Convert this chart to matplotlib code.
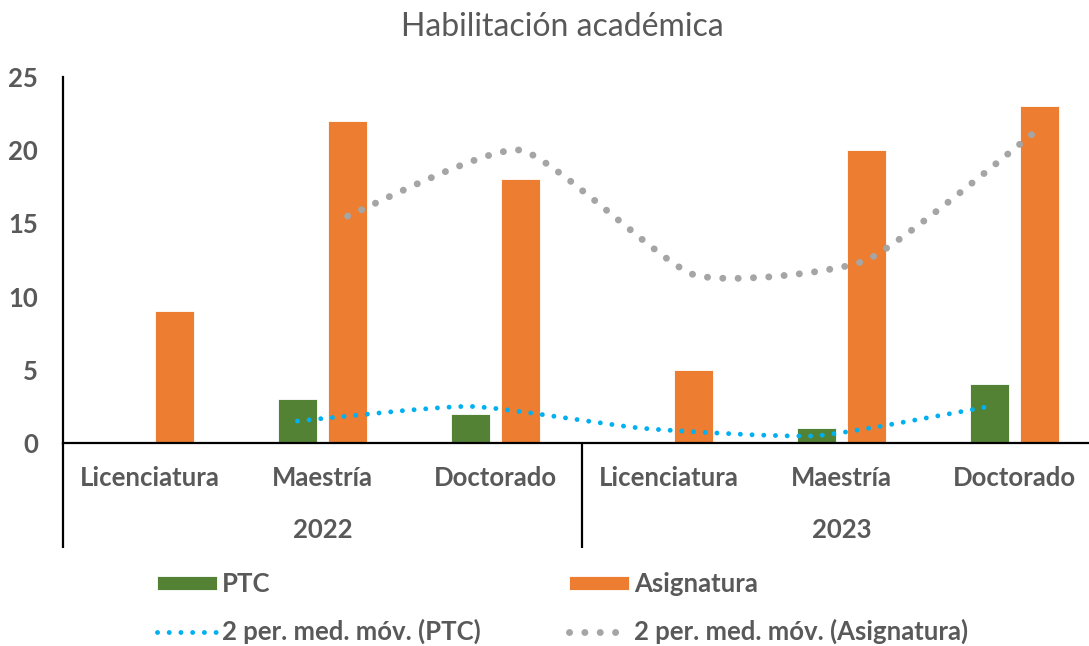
import numpy as np
import matplotlib.pyplot as plt
from matplotlib.path import Path
from matplotlib.patches import PathPatch, Patch
from matplotlib.lines import Line2D

# data
years = ['2022', '2023']
niveles = ['Licenciatura', 'Maestría', 'Doctorado']
ptc = [0, 3, 2, 0, 1, 4]
asignatura = [9, 22, 18, 5, 20, 23]
# 2-period moving averages (Excel trendlines, start at the 2nd category)
ma_ptc = [1.5, 2.5, 1.0, 0.5, 2.5]
ma_asig = [15.5, 20.0, 11.5, 12.5, 21.5]

GREEN = '#548235'
ORANGE = '#ED7D31'
BLUE = '#00B0F0'
GRAY = '#A5A5A5'
TXT = '#595959'

plt.rcParams['font.family'] = ['Lato', 'DejaVu Sans']
FS = 18.5


def smooth_path(xs, ys, k=0.09):
    # Excel-like smoothed line: Catmull-Rom style segments as cubic Beziers
    pts = np.column_stack([xs, ys]).astype(float)
    n = len(pts)
    verts = [pts[0]]
    codes = [Path.MOVETO]
    for i in range(n - 1):
        p0 = pts[i - 1] if i > 0 else pts[i]
        p1, p2 = pts[i], pts[i + 1]
        p3 = pts[i + 2] if i + 2 < n else pts[i + 1]
        verts += [p1 + (p2 - p0) * k, p2 - (p3 - p1) * k, p2]
        codes += [Path.CURVE4] * 3
    return Path(verts, codes)


W, H = 1089, 646
fig = plt.figure(figsize=(W / 100, H / 100), dpi=100)
ax = fig.add_axes([63 / W, 1 - 443 / H, (1101 - 63) / W, (443 - 77) / H])

x = np.arange(len(ptc))
off = 0.145
bw = 0.225
ax.bar(x - off, ptc, bw, color=GREEN, edgecolor='white', linewidth=0.6, zorder=2)
ax.bar(x + off, asignatura, bw, color=ORANGE, edgecolor='white', linewidth=0.6, zorder=2)

blue_style = dict(linestyle=(0, (0.01, 2.4)), linewidth=3.5)
gray_style = dict(linestyle=(0, (0.01, 2.2)), linewidth=5.0)

pp = PathPatch(smooth_path(x[1:] - off, ma_ptc), fill=False, edgecolor=BLUE,
               capstyle='round', zorder=3, **blue_style)
pa = PathPatch(smooth_path(x[1:] + off, ma_asig), fill=False, edgecolor=GRAY,
               capstyle='round', zorder=3, **gray_style)
ax.add_patch(pp)
ax.add_patch(pa)

ax.set_xlim(-0.5, 5.5)
ax.set_ylim(0, 25)
ax.set_yticks(range(0, 26, 5))
ax.set_xticks([])
ax.tick_params(axis='y', length=0, pad=18, labelsize=FS, labelcolor=TXT)
for lab in ax.get_yticklabels():
    lab.set_fontweight('bold')
for s in ['top', 'right']:
    ax.spines[s].set_visible(False)
for s in ['left', 'bottom']:
    ax.spines[s].set_color('black')
    ax.spines[s].set_linewidth(1.6)

# multi-level category axis
tr = ax.get_xaxis_transform()
for i, lab in enumerate(niveles * len(years)):
    ax.text(i, -0.096, lab, transform=tr, ha='center', va='center',
            fontsize=FS, fontweight='bold', color=TXT)
for j, yr in enumerate(years):
    ax.text(1 + 3 * j, -0.238, yr, transform=tr, ha='center', va='center',
            fontsize=FS, fontweight='bold', color=TXT)
for xs in [-0.5, 2.5]:
    ax.plot([xs, xs], [0, -0.287], transform=tr, color='black', lw=1.6,
            clip_on=False, solid_capstyle='butt')

fig.text(562 / W, 1 - 27 / H, 'Habilitación académica', ha='center', va='center',
         fontsize=23, color=TXT)

handles = [
    Patch(facecolor=GREEN, edgecolor='white', linewidth=0.6),
    Line2D([], [], color=BLUE, dash_capstyle='round', **blue_style),
    Patch(facecolor=ORANGE, edgecolor='white', linewidth=0.6),
    Line2D([], [], color=GRAY, dash_capstyle='round', **gray_style),
]
labels = ['PTC', '2 per. med. móv. (PTC)', 'Asignatura', '2 per. med. móv. (Asignatura)']
leg = fig.legend(handles, labels, ncol=2, loc='center left',
                 bbox_to_anchor=(157 / W, 1 - 608 / H), frameon=False,
                 borderpad=0, borderaxespad=0,
                 prop={'size': FS, 'weight': 'bold'}, handlelength=2.33,
                 handleheight=0.5, handletextpad=0.2, labelspacing=0.88,
                 columnspacing=3.45)
for t in leg.get_texts():
    t.set_color(TXT)

fig.savefig('out.png', dpi=100)
